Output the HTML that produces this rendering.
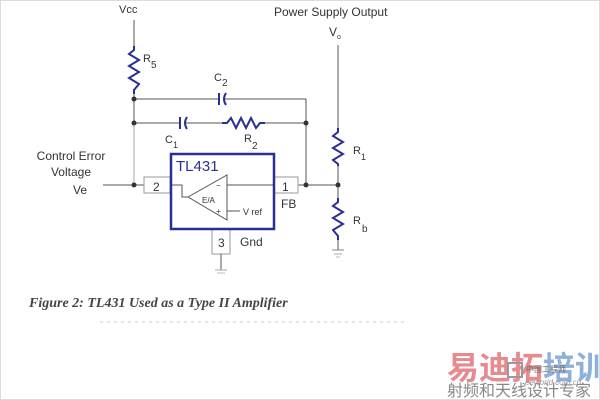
<!DOCTYPE html>
<html><head><style>
html,body{margin:0;padding:0;background:#fff;}
svg{display:block;}
text{font-family:"Liberation Sans",sans-serif;fill:#333;}
</style></head><body>
<svg width="600" height="400" viewBox="0 0 600 400" xmlns="http://www.w3.org/2000/svg">
<rect x="0" y="0" width="600" height="400" fill="#fff"/>
<rect x="0.5" y="0.5" width="599" height="399" fill="none" stroke="#ddd"/>
<g stroke="#555" stroke-width="1" fill="none">
<line x1="134" y1="20" x2="134" y2="46"/>
<line x1="134" y1="94" x2="134" y2="123"/>
<line x1="134" y1="123" x2="134" y2="185" stroke="#aaa"/>
<line x1="134" y1="99" x2="219" y2="99"/>
<line x1="225" y1="99" x2="306" y2="99"/>
<line x1="306" y1="99" x2="306" y2="185"/>
<line x1="134" y1="123" x2="180" y2="123"/>
<line x1="186" y1="123" x2="222" y2="123"/>
<line x1="265" y1="123" x2="306" y2="123"/>
<line x1="338" y1="45" x2="338" y2="128"/>
<line x1="338" y1="166" x2="338" y2="198"/>
<line x1="338" y1="240" x2="338" y2="250"/>
<line x1="298" y1="185" x2="338" y2="185"/>
<line x1="103" y1="185" x2="144" y2="185"/>
<rect x="144" y="177" width="26" height="16" stroke="#999"/>
<rect x="274" y="177" width="24" height="16" stroke="#999"/>
<rect x="212" y="229" width="18" height="25" stroke="#999"/>
<line x1="221" y1="254" x2="221" y2="270"/>
<line x1="215" y1="270" x2="227" y2="270" stroke="#aaa"/>
<line x1="217" y1="273" x2="225" y2="273" stroke="#bbb"/>
<line x1="332" y1="250" x2="344" y2="250" stroke="#888"/>
<line x1="334" y1="254" x2="342" y2="254" stroke="#aaa"/>
<line x1="336" y1="257" x2="340" y2="257" stroke="#bbb"/>
<polyline points="170,185 182,185 182,197 188,197"/>
<polygon points="188,197 227,175 227,220"/>
<line x1="227" y1="185" x2="274" y2="185"/>
<line x1="227" y1="211" x2="240" y2="211"/>
</g>
<g stroke="#2b2f8f" stroke-width="2" fill="none">
<polyline points="134,46 134,50 129,54 139,60 129,66 139,72 129,78 139,84 134,90 134,94"/>
<polyline points="338,128 338,132 333,136 343,142 333,148 343,154 333,160 338,164 338,166"/>
<polyline points="338,198 338,202 333,206 343,212 333,218 343,224 333,230 338,236 338,240"/>
<polyline points="222,123 227,123 231,118 236,128 241,118 246,128 251,118 256,128 260,123 265,123"/>
<line x1="219" y1="93" x2="219" y2="105"/>
<path d="M226,93 Q222,99 226,105"/>
<line x1="180" y1="117" x2="180" y2="129"/>
<path d="M187,117 Q183,123 187,129"/>
<rect x="171" y="154" width="103" height="75" stroke-width="2.5"/>
</g>
<g fill="#333">
<circle cx="134" cy="99" r="2.5"/><circle cx="134" cy="123" r="2.5"/>
<circle cx="306" cy="123" r="2.5"/><circle cx="134" cy="185" r="2.5"/>
<circle cx="306" cy="185" r="2.5"/><circle cx="338" cy="185" r="2.5"/>
</g>
<text x="119" y="13" font-size="11">Vcc</text>
<text x="274" y="16" font-size="12">Power Supply Output</text>
<text x="329" y="36" font-size="12">V</text><text x="337" y="39" font-size="7">o</text>
<text x="143" y="62" font-size="11">R</text><text x="151" y="68" font-size="10">5</text>
<text x="214" y="81" font-size="11">C</text><text x="222" y="86" font-size="10">2</text>
<text x="165" y="143" font-size="11">C</text><text x="173" y="148" font-size="9">1</text>
<text x="244" y="142" font-size="11">R</text><text x="252" y="149" font-size="10">2</text>
<text x="353" y="154" font-size="11">R</text><text x="361" y="160" font-size="9">1</text>
<text x="353" y="224" font-size="11">R</text><text x="362" y="232" font-size="10">b</text>
<text x="71" y="160" font-size="12" text-anchor="middle">Control Error</text>
<text x="71" y="176" font-size="12" text-anchor="middle">Voltage</text>
<text x="73" y="194" font-size="12">Ve</text>
<text x="176" y="171" font-size="15" style="fill:#2b2f8f">TL431</text>
<text x="153" y="191" font-size="12">2</text>
<text x="282" y="191" font-size="12">1</text>
<text x="281" y="208" font-size="12">FB</text>
<text x="218" y="247" font-size="12">3</text>
<text x="240" y="246" font-size="12">Gnd</text>
<text x="202" y="203" font-size="8">E/A</text>
<text x="216" y="188" font-size="8">−</text>
<text x="216" y="214" font-size="8">+</text>
<text x="243" y="215" font-size="9">V ref</text>
<text x="29" y="307" font-size="14" font-weight="bold" font-style="italic" style="font-family:'Liberation Serif',serif;fill:#444">Figure 2: TL431 Used as a Type II Amplifier</text>
<line x1="100" y1="322" x2="405" y2="322" stroke="#ccc" stroke-dasharray="3,4"/>
<text x="447" y="379" font-size="32" font-weight="bold" style="font-family:'Noto Sans CJK SC',sans-serif;fill:#e68a8f">易迪拓</text>
<text x="543" y="379" font-size="32" font-weight="bold" style="font-family:'Noto Sans CJK SC',sans-serif;fill:#8fb0d8">培训</text>
<rect x="508" y="363" width="14" height="14" fill="none" stroke="#999" stroke-width="2"/>
<text x="526" y="372" font-size="8" style="fill:#666">中国工程师</text>
<text x="447" y="396" font-size="16" style="font-family:'Noto Sans CJK SC',sans-serif;fill:#888">射频和天线设计专家</text>
<text x="525" y="385" font-size="8" font-style="italic" style="fill:#999">eeworld.com.cn</text>
</svg>
</body></html>
